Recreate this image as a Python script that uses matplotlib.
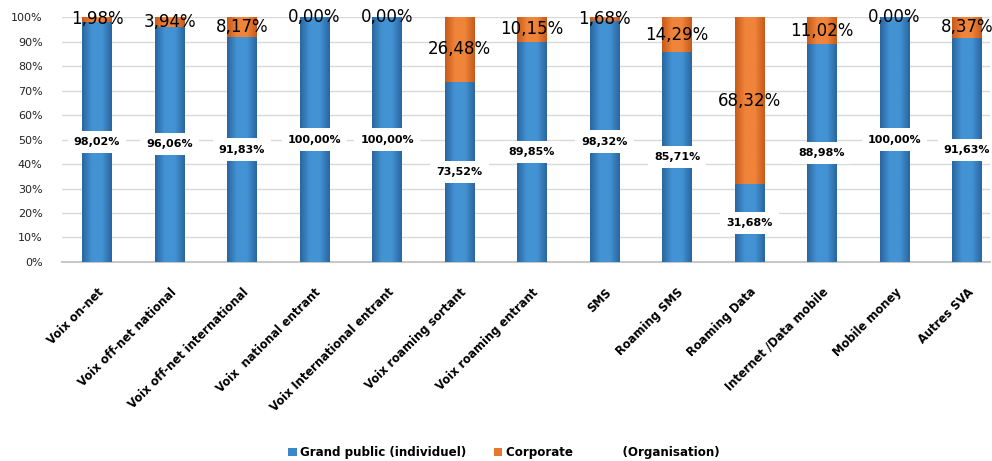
import matplotlib
matplotlib.use("Agg")
import matplotlib.pyplot as plt
import matplotlib.colors as mcolors
import numpy as np

categories = ["Voix on-net", "Voix off-net national", "Voix off-net international",
              "Voix  national entrant", "Voix International entrant", "Voix roaming sortant",
              "Voix roaming entrant", "SMS", "Roaming SMS", "Roaming Data",
              "Internet /Data mobile", "Mobile money", "Autres SVA"]
grand_public = [98.02, 96.06, 91.83, 100.00, 100.00, 73.52, 89.85, 98.32, 85.71, 31.68, 88.98, 100.00, 91.63]
corporate = [1.98, 3.94, 8.17, 0.00, 0.00, 26.48, 10.15, 1.68, 14.29, 68.32, 11.02, 0.00, 8.37]
yticks = [0, 10, 20, 30, 40, 50, 60, 70, 80, 90, 100]

blue = "#3B87C9"
orange = "#E8762C"

fig = plt.figure(figsize=(9.92, 4.61), dpi=100)
ax = fig.add_axes([0.0625, 0.4317, 0.9355, 0.5313])

x = np.arange(len(categories))
w = 0.41
b1 = ax.bar(x, grand_public, w, color=blue, edgecolor="none", zorder=3,
            label="Grand public (individuel)")
b2 = ax.bar(x, corporate, w, bottom=grand_public, color=orange, edgecolor="none",
            zorder=3, label="Corporate            (Organisation)")

# cylinder-like horizontal shading clipped to each bar
def shade(bars, dark, light):
    cmap = mcolors.LinearSegmentedColormap.from_list("s", [dark, light, light, dark])
    grad = np.linspace(0, 1, 64).reshape(1, -1)
    for p in bars:
        if p.get_height() <= 0:
            continue
        x0, y0 = p.get_x(), p.get_y()
        im = ax.imshow(grad, cmap=cmap, aspect="auto", zorder=3.5,
                       extent=(x0, x0 + p.get_width(), y0, y0 + p.get_height()))
        im.set_clip_path(p)

shade(b1, "#2A66A0", "#4393D4")
shade(b2, "#C75A1A", "#F0843A")

def fmt(v):
    return f"{v:.2f}".replace(".", ",") + "%"

for xi, g, c in zip(x, grand_public, corporate):
    ax.text(xi, g / 2, fmt(g), ha="center", va="center", fontsize=8, fontweight="bold",
            color="black", zorder=5,
            bbox=dict(boxstyle="square,pad=0.55", facecolor="white", edgecolor="none"))
    ax.text(xi, g + c / 2, fmt(c), ha="center", va="center", fontsize=12,
            color="black", zorder=5)

ax.set_xlim(-0.483, 12.317)
ax.set_ylim(0, 100)
ax.set_yticks(yticks)
ax.set_yticklabels([f"{t}%" for t in yticks], fontsize=8, color="#222222")
ax.set_xticks(x)
ax.set_xticklabels(categories, rotation=45, ha="right", rotation_mode="anchor",
                   fontsize=8.3, fontweight="bold")
ax.tick_params(axis="both", length=0)
ax.tick_params(axis="x", pad=17)
ax.tick_params(axis="y", pad=14)
ax.yaxis.grid(True, color="#D9D9D9", linewidth=1, zorder=0)
for s in ["top", "right", "left"]:
    ax.spines[s].set_visible(False)
ax.spines["bottom"].set_color("#C8C8C8")
ax.spines["bottom"].set_linewidth(1.5)

fig.legend(loc="lower center", bbox_to_anchor=(0.508, -0.02), ncol=2, frameon=False,
           prop={"weight": "bold", "size": 8.6}, handlelength=0.7, handleheight=0.7,
           columnspacing=2.3, handletextpad=0.3)

fig.savefig("out.png", dpi=100)
